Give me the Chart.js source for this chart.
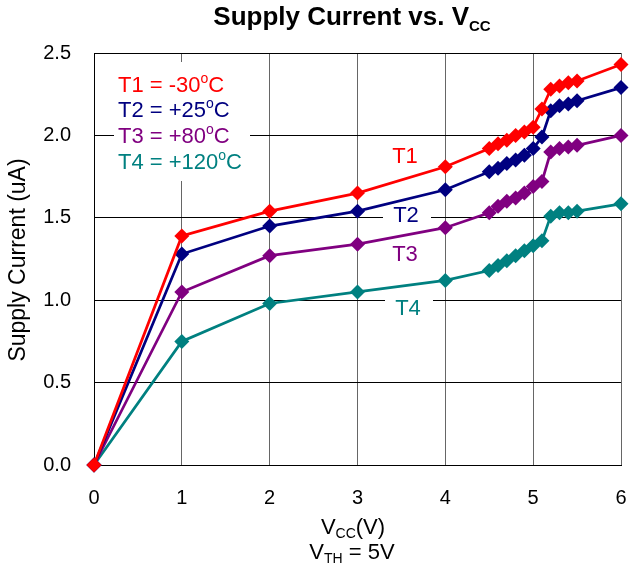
<!DOCTYPE html>
<html>
<head>
<meta charset="utf-8">
<script src="https://cdn.jsdelivr.net/npm/chart.js@4"></script>
<style>
  html, body { margin: 0; padding: 0; background: #fff; }
  #wrap { width: 629px; height: 574px; }
</style>
</head>
<body>
<div id="wrap"><canvas id="chart" width="629" height="574"></canvas></div>
<script>
const vcc = [0, 1, 2, 3, 4, 4.5, 4.6, 4.7, 4.8, 4.9, 5.0, 5.1, 5.2, 5.3, 5.4, 5.5, 6];
const t1 = [0, 1.39, 1.54, 1.65, 1.81, 1.92, 1.95, 1.97, 2.00, 2.02, 2.05, 2.16, 2.28, 2.30, 2.32, 2.33, 2.43];
const t2 = [0, 1.28, 1.45, 1.54, 1.67, 1.78, 1.80, 1.83, 1.85, 1.88, 1.92, 1.99, 2.15, 2.18, 2.19, 2.21, 2.29];
const t3 = [0, 1.05, 1.27, 1.34, 1.44, 1.53, 1.57, 1.60, 1.62, 1.65, 1.69, 1.72, 1.90, 1.92, 1.93, 1.94, 2.00];
const t4 = [0, 0.75, 0.98, 1.05, 1.12, 1.18, 1.21, 1.24, 1.27, 1.30, 1.33, 1.36, 1.51, 1.53, 1.53, 1.54, 1.585];
const seriesNames = ['T1', 'T2', 'T3', 'T4'];
const legendTemps = ['-30', '+25', '+80', '+120'];
const colors = ['#FF0000', '#000080', '#800080', '#008080'];

const FONT = '"Liberation Sans", Arial, sans-serif';

const toPoints = (arr) => vcc.map((v, i) => ({ x: v, y: arr[i] }));

// text with a sub/superscript piece: parts = [[text, size, dy, weight]]
function drawParts(ctx, parts, x, y, align) {
  let total = 0;
  parts.forEach(p => {
    ctx.font = (p[3] || 'normal') + ' ' + p[1] + 'px ' + FONT;
    total += ctx.measureText(p[0]).width;
  });
  let cx = align === 'center' ? x - total / 2 : x;
  ctx.textAlign = 'left';
  ctx.textBaseline = 'middle';
  parts.forEach(p => {
    ctx.font = (p[3] || 'normal') + ' ' + p[1] + 'px ' + FONT;
    ctx.fillText(p[0], cx, y + p[2]);
    cx += ctx.measureText(p[0]).width;
  });
  return total;
}

const annotations = {
  id: 'annotations',
  beforeDatasetsDraw(chart) {
    const { ctx } = chart;
    ctx.save();
    // legend box
    ctx.fillStyle = '#fff';
    ctx.fillRect(114, 62, 136, 119);
    const rows = [86, 111, 137, 163];
    rows.forEach((ry, i) => {
      ctx.fillStyle = colors[i];
      drawParts(ctx, [
        [seriesNames[i] + ' = ' + legendTemps[i], 22, 0],
        ['o', 14, -7],
        ['C', 22, 0]
      ], 118, ry, 'left');
    });
    // series labels
    const labels = [[405, 157, false], [406, 216, true], [405, 255, false], [408, 309, true]];
    labels.forEach((l, i) => {
      ctx.font = '22px ' + FONT;
      if (l[2]) {
        ctx.fillStyle = '#fff';
        ctx.fillRect(l[0] - 23, l[1] - 12, 48, 24);
      }
      ctx.fillStyle = colors[i];
      ctx.textAlign = 'center';
      ctx.textBaseline = 'middle';
      ctx.fillText(seriesNames[i], l[0], l[1]);
    });
    ctx.restore();
  },
  afterDraw(chart) {
    const { ctx } = chart;
    ctx.save();
    ctx.fillStyle = '#000';
    // title
    drawParts(ctx, [
      ['Supply Current vs. V', 26, 0, 'bold'],
      ['CC', 15, 9, 'bold']
    ], 352, 18, 'center');
    // x axis title
    drawParts(ctx, [
      ['V', 22, 0],
      ['CC', 14, 6],
      ['(V)', 22, 0]
    ], 353, 528, 'center');
    drawParts(ctx, [
      ['V', 22, 0],
      ['TH', 14, 6],
      [' = 5V', 22, 0]
    ], 352, 553, 'center');
    // y axis title
    ctx.translate(19, 260);
    ctx.rotate(-Math.PI / 2);
    ctx.font = '23px ' + FONT;
    ctx.textAlign = 'center';
    ctx.textBaseline = 'middle';
    ctx.fillText('Supply Current (uA)', 0, 0);
    ctx.restore();
  }
};

new Chart(document.getElementById('chart'), {
  type: 'line',
  data: {
    datasets: [t1, t2, t3, t4].map((arr, i) => ({
      label: seriesNames[i],
      data: toPoints(arr),
      borderColor: colors[i],
      backgroundColor: colors[i],
      borderWidth: 2.75,
      pointStyle: 'rectRot',
      pointRadius: 7.5,
      pointBorderWidth: 0,
      tension: 0,
      clip: false
    }))
  },
  options: {
    responsive: false,
    animation: false,
    layout: {
      padding: { left: 0, right: 8, top: 53, bottom: 0 }
    },
    plugins: {
      legend: { display: false },
      title: { display: false },
      tooltip: { enabled: false }
    },
    scales: {
      x: {
        type: 'linear',
        min: 0,
        max: 6,
        afterFit: (scale) => {
          scale.height = 109;
          scale.paddingLeft = 0;
          scale.paddingRight = 0;
        },
        ticks: {
          stepSize: 1,
          padding: 21,
          color: '#000',
          font: { family: FONT, size: 20 }
        },
        grid: {
          color: '#666',
          lineWidth: 1,
          drawTicks: false
        },
        border: { color: '#000', width: 1 }
      },
      y: {
        min: 0,
        max: 2.5,
        afterFit: (scale) => {
          scale.width = 94;
          scale.paddingTop = 0;
          scale.paddingBottom = 0;
        },
        ticks: {
          stepSize: 0.5,
          padding: 23,
          color: '#000',
          font: { family: FONT, size: 20 },
          callback: (v) => v.toFixed(1)
        },
        grid: {
          color: '#000',
          lineWidth: 1,
          drawTicks: false
        },
        border: { color: '#000', width: 1 }
      }
    }
  },
  plugins: [annotations]
});
</script>
</body>
</html>
